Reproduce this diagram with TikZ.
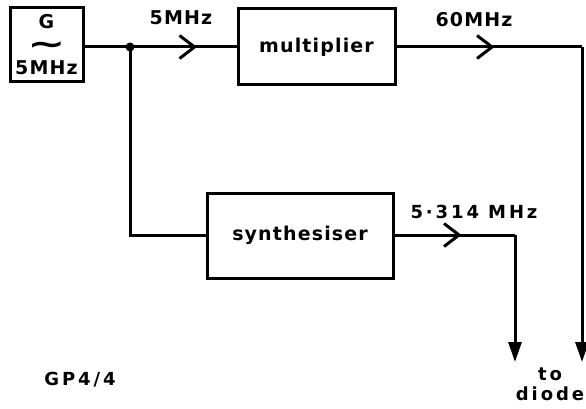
\documentclass[tikz,border=0pt]{standalone}
\usepackage{fontspec}
\setsansfont{DejaVu Sans}[LetterSpace=6]
\newfontfamily\widesf{DejaVu Sans}[LetterSpace=16]
\usetikzlibrary{arrows.meta, positioning, decorations.markings}

\begin{document}
\begin{tikzpicture}[
    x=1pt, y=-1pt,
    font=\sffamily\bfseries\fontsize{19}{23}\selectfont,
    node distance=4pt,
    blk/.style={rectangle, draw, line width=3pt, align=center, inner sep=2pt},
    wire/.style={line width=3pt},
    midarr/.style={wire, decoration={markings,
        mark=at position #1 with {\arrow{Straight Barb[length=15pt, width=23pt, line width=3pt]}}},
        postaction={decorate}},
    downarr/.style={wire, -{Triangle[length=20pt, width=13pt]}},
    lbl/.style={inner sep=0pt},
    widelbl/.style={lbl, font=\widesf\bfseries\fontsize{18}{23}\selectfont}
]
\useasboundingbox (0,0) rectangle (586,409);

% =========== blocks ===========
\node[blk, minimum width=73pt, minimum height=74pt, inner sep=0pt]
    (gen)   at (46.5,45)  {G\\\smash{\raisebox{-3pt}{\scalebox{2.4}[1.6]{∼}}}\\5MHz};
\node[blk, minimum width=157pt, minimum height=76pt] (mult)  at (316.5,47) {multiplier};
\node[blk, minimum width=186pt, minimum height=85pt] (synth) at (300,235.5) {synthesiser};

% =========== wiring ===========
\coordinate (junc)  at (130,47);
\coordinate (jdown) at (130,235);
\coordinate (hibend) at (582,47);
\coordinate (hiend)  at (582,362);
\coordinate (lobend) at (515,235);
\coordinate (loend)  at (515,362);

\draw[wire] (gen.east |- junc) -- (junc);
\draw[midarr=67pt] (junc) -- (mult.west |- junc);
\draw[wire] (junc) -- (jdown) -- (synth.west |- jdown);
\fill (junc) circle (4.5pt);

\draw[midarr=98pt] (mult.east |- hibend) -- (hibend);
\draw[downarr] (hibend) -- (hiend);
\draw[midarr=67pt] (synth.east |- lobend) -- (lobend);
\draw[downarr] (lobend) -- (loend);

% =========== labels ===========
\node[lbl]     (f5)    at (181,18)  {5MHz};
\node[lbl]     (f60)   at (474,20)  {60MHz};
\node[widelbl] (fsyn)  at (474,212) {5·314 MHz};
\node[widelbl] (to)    at (550,374) {to};
\node[widelbl, below=6pt of to] (diode) {diode};
\node[widelbl] (fig)   at (80,380)  {GP4/4};

\end{tikzpicture}
\end{document}
